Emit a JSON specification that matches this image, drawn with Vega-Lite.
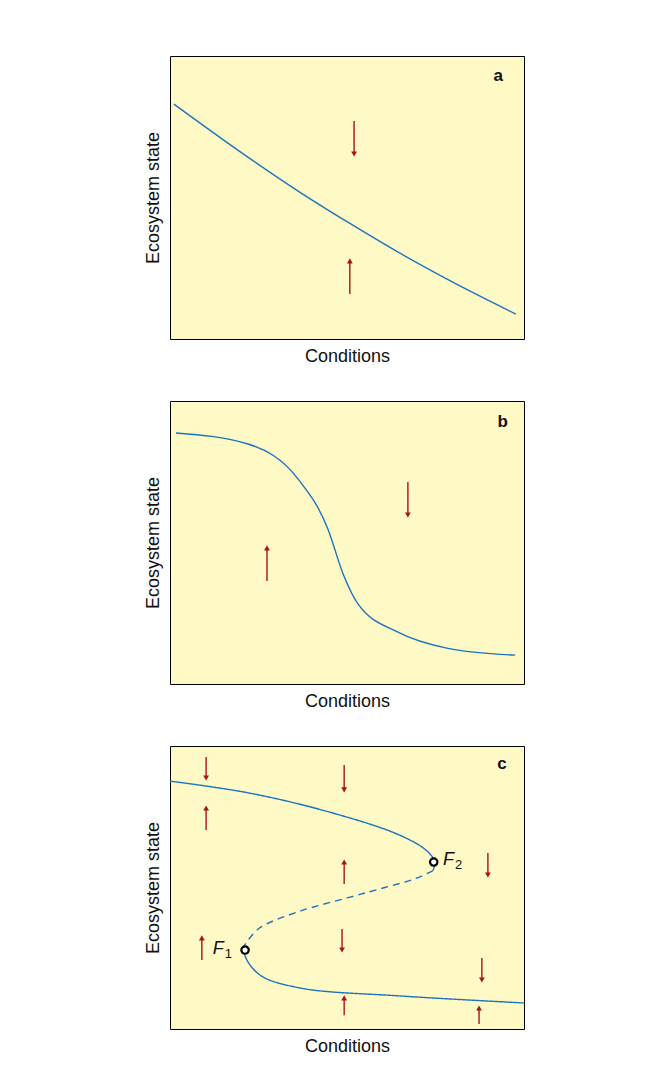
{
  "$schema": "https://vega.github.io/schema/vega-lite/v6.json",
  "background": "white",
  "padding": {"left": 143, "top": 55, "right": 10, "bottom": 5},
  "spacing": 34,
  "config": {
    "font": "Liberation Sans",
    "view": {"fill": "#fff9c6", "stroke": "#000000", "strokeWidth": 1},
    "axis": {"domain": false, "ticks": false, "labels": false, "grid": false, "titleFontSize": 18, "titleFontWeight": "normal", "titleColor": "#111", "titlePadding": 8}
  },
  "datasets": {
    "curves": [
      {"p": "a", "s": "s1", "d": "solid", "o": 1, "x": 1.1, "y": 83.0},
      {"p": "a", "s": "s1", "d": "solid", "o": 2, "x": 22.3, "y": 64.0},
      {"p": "a", "s": "s1", "d": "solid", "o": 3, "x": 36.4, "y": 52.1},
      {"p": "a", "s": "s1", "d": "solid", "o": 4, "x": 50.6, "y": 41.0},
      {"p": "a", "s": "s1", "d": "solid", "o": 5, "x": 64.7, "y": 30.5},
      {"p": "a", "s": "s1", "d": "solid", "o": 6, "x": 78.8, "y": 20.8},
      {"p": "a", "s": "s1", "d": "solid", "o": 7, "x": 97.7, "y": 8.8},
      {"p": "b", "s": "s1", "d": "solid", "o": 1, "x": 1.7, "y": 88.7},
      {"p": "b", "s": "s1", "d": "solid", "o": 2, "x": 22, "y": 84.8},
      {"p": "b", "s": "s1", "d": "solid", "o": 3, "x": 36.2, "y": 72.4},
      {"p": "b", "s": "s1", "d": "solid", "o": 4, "x": 44.6, "y": 54.8},
      {"p": "b", "s": "s1", "d": "solid", "o": 5, "x": 48.9, "y": 38.9},
      {"p": "b", "s": "s1", "d": "solid", "o": 6, "x": 53.1, "y": 28.3},
      {"p": "b", "s": "s1", "d": "solid", "o": 7, "x": 64.4, "y": 18.3},
      {"p": "b", "s": "s1", "d": "solid", "o": 8, "x": 78.5, "y": 12.6},
      {"p": "b", "s": "s1", "d": "solid", "o": 9, "x": 97.5, "y": 10.2},
      {"p": "c", "s": "up", "d": "solid", "o": 1, "x": 0, "y": 87.6},
      {"p": "c", "s": "up", "d": "solid", "o": 2, "x": 22.3, "y": 83.4},
      {"p": "c", "s": "up", "d": "solid", "o": 3, "x": 44.9, "y": 76.7},
      {"p": "c", "s": "up", "d": "solid", "o": 4, "x": 64.7, "y": 68.6},
      {"p": "c", "s": "up", "d": "solid", "o": 5, "x": 72.5, "y": 63.0},
      {"p": "c", "s": "up", "d": "solid", "o": 6, "x": 74.8, "y": 59.0},
      {"p": "c", "s": "up", "d": "solid", "o": 7, "x": 74.3, "y": 56.0},
      {"p": "c", "s": "mid", "d": "dash", "o": 1, "x": 74.3, "y": 56.0},
      {"p": "c", "s": "mid", "d": "dash", "o": 2, "x": 69.5, "y": 53.2},
      {"p": "c", "s": "mid", "d": "dash", "o": 3, "x": 60.7, "y": 50},
      {"p": "c", "s": "mid", "d": "dash", "o": 4, "x": 50.6, "y": 46.5},
      {"p": "c", "s": "mid", "d": "dash", "o": 5, "x": 36.4, "y": 41.5},
      {"p": "c", "s": "mid", "d": "dash", "o": 6, "x": 25.1, "y": 35.5},
      {"p": "c", "s": "mid", "d": "dash", "o": 7, "x": 21.0, "y": 29.5},
      {"p": "c", "s": "low", "d": "solid", "o": 1, "x": 21.0, "y": 29.5},
      {"p": "c", "s": "low", "d": "solid", "o": 2, "x": 21.3, "y": 25.5},
      {"p": "c", "s": "low", "d": "solid", "o": 3, "x": 25.5, "y": 19.0},
      {"p": "c", "s": "low", "d": "solid", "o": 4, "x": 36.7, "y": 14.5},
      {"p": "c", "s": "low", "d": "solid", "o": 5, "x": 64.7, "y": 11.7},
      {"p": "c", "s": "low", "d": "solid", "o": 6, "x": 100, "y": 9.2}
    ],
    "arrows": [
      {"p": "a", "x": 52, "tail": 77, "tip": 65.4, "dir": "down"},
      {"p": "a", "x": 50.8, "tail": 15.9, "tip": 27.6, "dir": "up"},
      {"p": "b", "x": 67.2, "tail": 71.4, "tip": 59.7, "dir": "down"},
      {"p": "b", "x": 27.4, "tail": 36.4, "tip": 48.1, "dir": "up"},
      {"p": "c", "x": 10.2, "tail": 96.1, "tip": 88.7, "dir": "down"},
      {"p": "c", "x": 49.2, "tail": 93.3, "tip": 84.5, "dir": "down"},
      {"p": "c", "x": 89.8, "tail": 62.2, "tip": 54.4, "dir": "down"},
      {"p": "c", "x": 48.6, "tail": 35.3, "tip": 27.9, "dir": "down"},
      {"p": "c", "x": 88.1, "tail": 25.1, "tip": 17.3, "dir": "down"},
      {"p": "c", "x": 10.2, "tail": 70.3, "tip": 78.1, "dir": "up"},
      {"p": "c", "x": 49.2, "tail": 51.2, "tip": 59.0, "dir": "up"},
      {"p": "c", "x": 9.0, "tail": 24.4, "tip": 32.2, "dir": "up"},
      {"p": "c", "x": 49.2, "tail": 4.9, "tip": 11.0, "dir": "up"},
      {"p": "c", "x": 87.3, "tail": 1.8, "tip": 7.4, "dir": "up"}
    ],
    "letters": [
      {"p": "a", "x": 92.7, "y": 93, "t": "a"},
      {"p": "b", "x": 94, "y": 92.6, "t": "b"},
      {"p": "c", "x": 93.8, "y": 93.6, "t": "c"}
    ],
    "fpts": [
      {"x": 21.2, "y": 27.9, "n": "1", "lx": 15.5, "ly": 28.3},
      {"x": 74.5, "y": 59.0, "n": "2", "lx": 80.5, "ly": 59.8}
    ]
  },
  "vconcat": [
    {
      "width": 354, "height": 283,
      "encoding": {
        "x": {"field": "x", "type": "quantitative", "scale": {"domain": [0, 100], "nice": false}, "title": "Conditions"},
        "y": {"field": "y", "type": "quantitative", "scale": {"domain": [0, 100], "nice": false}, "title": "Ecosystem state"}
      },
      "layer": [
        {"data": {"name": "curves"}, "transform": [{"filter": "datum.p == 'a'"}], "mark": {"type": "line", "color": "#1c74c0", "strokeWidth": 1.4, "interpolate": "monotone"}, "encoding": {"detail": {"field": "s"}, "order": {"field": "o"}}},
        {"data": {"name": "arrows"}, "transform": [{"filter": "datum.p == 'a'"}], "mark": {"type": "rule", "color": "#a8141c", "strokeWidth": 1.4}, "encoding": {"y": {"field": "tail", "type": "quantitative"}, "y2": {"field": "tip"}}},
        {"data": {"name": "arrows"}, "transform": [{"filter": "datum.p == 'a'"}], "mark": {"type": "point", "filled": true, "color": "#a8141c", "size": 34, "opacity": 1}, "encoding": {"y": {"field": "tip", "type": "quantitative"}, "shape": {"field": "dir", "type": "nominal", "scale": {"domain": ["down", "up"], "range": ["triangle-down", "triangle-up"]}, "legend": null}}},
        {"data": {"name": "letters"}, "transform": [{"filter": "datum.p == 'a'"}], "mark": {"type": "text", "fontWeight": "bold", "fontSize": 17, "color": "#111"}, "encoding": {"text": {"field": "t"}}}
      ]
    },
    {
      "width": 354, "height": 283,
      "encoding": {
        "x": {"field": "x", "type": "quantitative", "scale": {"domain": [0, 100], "nice": false}, "title": "Conditions"},
        "y": {"field": "y", "type": "quantitative", "scale": {"domain": [0, 100], "nice": false}, "title": "Ecosystem state"}
      },
      "layer": [
        {"data": {"name": "curves"}, "transform": [{"filter": "datum.p == 'b'"}], "mark": {"type": "line", "color": "#1c74c0", "strokeWidth": 1.4, "interpolate": "monotone"}, "encoding": {"detail": {"field": "s"}, "order": {"field": "o"}}},
        {"data": {"name": "arrows"}, "transform": [{"filter": "datum.p == 'b'"}], "mark": {"type": "rule", "color": "#a8141c", "strokeWidth": 1.4}, "encoding": {"y": {"field": "tail", "type": "quantitative"}, "y2": {"field": "tip"}}},
        {"data": {"name": "arrows"}, "transform": [{"filter": "datum.p == 'b'"}], "mark": {"type": "point", "filled": true, "color": "#a8141c", "size": 34, "opacity": 1}, "encoding": {"y": {"field": "tip", "type": "quantitative"}, "shape": {"field": "dir", "type": "nominal", "scale": {"domain": ["down", "up"], "range": ["triangle-down", "triangle-up"]}, "legend": null}}},
        {"data": {"name": "letters"}, "transform": [{"filter": "datum.p == 'b'"}], "mark": {"type": "text", "fontWeight": "bold", "fontSize": 17, "color": "#111"}, "encoding": {"text": {"field": "t"}}}
      ]
    },
    {
      "width": 354, "height": 283,
      "encoding": {
        "x": {"field": "x", "type": "quantitative", "scale": {"domain": [0, 100], "nice": false}, "title": "Conditions"},
        "y": {"field": "y", "type": "quantitative", "scale": {"domain": [0, 100], "nice": false}, "title": "Ecosystem state"}
      },
      "layer": [
        {"data": {"name": "curves"}, "transform": [{"filter": "datum.p == 'c'"}], "mark": {"type": "line", "color": "#1c74c0", "strokeWidth": 1.4, "interpolate": "catmull-rom"}, "encoding": {"detail": {"field": "s"}, "order": {"field": "o"}, "strokeDash": {"field": "d", "type": "nominal", "scale": {"domain": ["solid", "dash"], "range": [[1, 0], [7, 5]]}, "legend": null}}},
        {"data": {"name": "arrows"}, "transform": [{"filter": "datum.p == 'c'"}], "mark": {"type": "rule", "color": "#a8141c", "strokeWidth": 1.4}, "encoding": {"y": {"field": "tail", "type": "quantitative"}, "y2": {"field": "tip"}}},
        {"data": {"name": "arrows"}, "transform": [{"filter": "datum.p == 'c'"}], "mark": {"type": "point", "filled": true, "color": "#a8141c", "size": 34, "opacity": 1}, "encoding": {"y": {"field": "tip", "type": "quantitative"}, "shape": {"field": "dir", "type": "nominal", "scale": {"domain": ["down", "up"], "range": ["triangle-down", "triangle-up"]}, "legend": null}}},
        {"data": {"name": "letters"}, "transform": [{"filter": "datum.p == 'c'"}], "mark": {"type": "text", "fontWeight": "bold", "fontSize": 17, "color": "#111"}, "encoding": {"text": {"field": "t"}}},
        {"data": {"name": "fpts"}, "mark": {"type": "point", "shape": "circle", "filled": true, "fill": "white", "stroke": "black", "strokeWidth": 2.2, "size": 55, "opacity": 1}},
        {"data": {"name": "fpts"}, "mark": {"type": "text", "text": "F", "fontStyle": "italic", "fontSize": 18, "color": "#111", "align": "right", "dx": -1}, "encoding": {"x": {"field": "lx", "type": "quantitative"}, "y": {"field": "ly", "type": "quantitative"}}},
        {"data": {"name": "fpts"}, "mark": {"type": "text", "fontSize": 13, "color": "#111", "align": "left", "dy": 5}, "encoding": {"x": {"field": "lx", "type": "quantitative"}, "y": {"field": "ly", "type": "quantitative"}, "text": {"field": "n"}}}
      ]
    }
  ]
}
